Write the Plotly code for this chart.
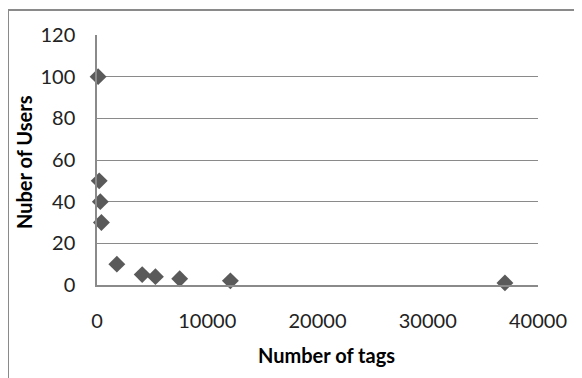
import plotly.graph_objects as go

tags = [100, 200, 300, 400, 1800, 4100, 5300, 7500, 12100, 37000]
users = [100, 50, 40, 30, 10, 5, 4, 3, 2, 1]
x_ticks = [0, 10000, 20000, 30000, 40000]
y_ticks = [0, 20, 40, 60, 80, 100, 120]

OFF = 8  # browser body margin
W, H = 582 - OFF, 378 - OFF
ml, mr, mt, mb = 97 - OFF, 44, 35 - OFF, 93
pw, ph = W - ml - mr, H - mt - mb

def px_to_paper(x, y):
    # x, y are page pixel coordinates
    x -= OFF
    y -= OFF
    return (x - ml) / pw, (H - mb - y) / ph

font = "Lato, 'Open Sans', sans-serif"
fig = go.Figure()
fig.add_trace(go.Scatter(
    x=tags, y=users, mode="markers",
    marker=dict(symbol="diamond", size=13, color="#5a5a5a"),
    cliponaxis=False, showlegend=False,
))

x0, y0 = px_to_paper(8, 10)
x1, y1 = px_to_paper(600, 400)
fig.add_shape(type="rect", xref="paper", yref="paper", x0=x0, y0=y1, x1=x1, y1=y0,
              line=dict(color="#8a8a8a", width=2), fillcolor="rgba(0,0,0,0)", layer="below")

ax, ay = px_to_paper(326, 355)
fig.add_annotation(text="<b>Number of tags</b>", xref="paper", yref="paper", x=ax, y=ay,
                   showarrow=False, font=dict(family=font, size=20, color="#000"),
                   xanchor="center", yanchor="middle")
ax, ay = px_to_paper(24, 162)
fig.add_annotation(text="<b>Nuber of Users</b>", xref="paper", yref="paper", x=ax, y=ay,
                   showarrow=False, textangle=-90, font=dict(family=font, size=20, color="#000"),
                   xanchor="center", yanchor="middle")

fig.update_layout(
    width=W, height=H,
    margin=dict(l=ml, r=mr, t=mt, b=mb),
    paper_bgcolor="white", plot_bgcolor="white",
    font=dict(family=font, size=20, color="#222"),
    xaxis=dict(range=[0, 40000], tickvals=x_ticks, ticktext=[str(v) for v in x_ticks],
               showgrid=False, zeroline=False, showline=True, linecolor="#8a8a8a", linewidth=1.5,
               ticks="outside", ticklen=17, tickcolor="rgba(0,0,0,0)"),
    yaxis=dict(range=[0, 120], tickvals=y_ticks, ticktext=[str(v) for v in y_ticks],
               showgrid=True, gridcolor="#8a8a8a", gridwidth=1.2, zeroline=False,
               showline=True, linecolor="#8a8a8a", linewidth=1.5,
               ticks="outside", ticklen=16, tickcolor="rgba(0,0,0,0)"),
)
fig.write_html("out.html")
